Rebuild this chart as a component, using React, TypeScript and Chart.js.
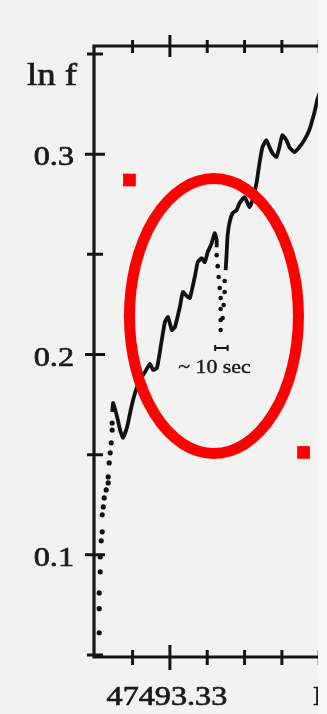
import React, { useEffect, useRef } from "react";
import { Chart, registerables } from "chart.js";

Chart.register(...registerables);

// x: seconds relative to the tick labelled MJD 47493.33 ; y: ln f
const riseDotsX = [-56.8, -56.8, -56.8, -56.0, -56.0, -55.2, -54.4, -54.4, -53.6, -52.8, -51.2, -49.6, -49.6, -48.8, -48.0, -47.2, -46.4, -46.4];
const riseDotsY = [0.0611, 0.0731, 0.081, 0.0915, 0.099, 0.107, 0.1115, 0.12, 0.1239, 0.1284, 0.1324, 0.1359, 0.1389, 0.1459, 0.1509, 0.1559, 0.1623, 0.1658];

const traceAX = [-46.4, -45.6, -42.4, -40.0, -37.6, -34.4, -32.0, -29.6, -26.4, -24.0, -20.0, -16.0, -13.6, -10.4, -7.2, -4.0, -1.6, 1.6, 4.0, 8.0, 10.4, 13.6, 16.0, 20.0, 22.4, 25.6, 28.0, 30.4, 33.6, 36.0, 37.6, 37.6];
const traceAY = [0.1713, 0.1758, 0.1688, 0.1623, 0.1584, 0.1638, 0.1708, 0.1773, 0.1838, 0.1873, 0.1913, 0.1953, 0.1923, 0.1933, 0.2047, 0.2162, 0.2187, 0.2122, 0.2137, 0.2237, 0.2312, 0.2292, 0.2282, 0.2387, 0.2461, 0.2481, 0.2461, 0.2511, 0.2556, 0.2606, 0.2571, 0.2536];

const dipDotsX = [37.6, 38.4, 39.2, 40.0, 40.8, 40.8, 40.8, 40.8, 42.4, 43.2, 44.0, 44.0];
const dipDotsY = [0.2496, 0.2441, 0.2387, 0.2332, 0.2282, 0.2227, 0.2172, 0.2122, 0.2182, 0.2247, 0.2312, 0.2367];

const traceBX = [44.8, 45.6, 46.4, 48.0, 50.4, 53.6, 56.0, 60.0, 64.0, 66.4, 69.6, 72.0, 74.4, 77.6, 80.0, 82.4, 85.6, 88.0, 90.4, 93.6, 96.0, 100.0, 104.0, 108.0, 112.0, 116.0, 118.4, 121.6];
const traceBY = [0.2421, 0.2506, 0.2596, 0.2661, 0.2706, 0.2721, 0.2756, 0.2786, 0.2736, 0.2771, 0.2855, 0.2955, 0.3035, 0.307, 0.3035, 0.3005, 0.2985, 0.3035, 0.3095, 0.307, 0.3035, 0.301, 0.3035, 0.307, 0.312, 0.3204, 0.3269, 0.3329];

const xTickValues = [-30, 0, 30, 60, 90, 120, 150, 180];
const xMajorTickValues = [0, 150];
const xLabelValues = [0];
const xLabels = ["47493.33"];
const cutLabel = "N";
const cutLabelX = 115;

const yTickValues = [0.05, 0.1, 0.15, 0.2, 0.25, 0.3, 0.35];
const yLabelValues = [0.1, 0.2, 0.3];
const yLabels = ["0.1", "0.2", "0.3"];
const yTitle = "ln f";

// red annotations (data coordinates)
const markerX = [-32.5, 107.4];
const markerY = [0.2871, 0.1511];
const ellipseCX = 35.4;
const ellipseCY = 0.2192;
const ellipseRX = 67.9;
const ellipseRY = 0.0686;

const barCenterX = 41.4;
const barHalfWidth = 5; // 10 sec
const barY = 0.2032;
const barLabel = "~ 10 sec";
const barLabelX = 35.8;
const barLabelY = 0.1907;

const INK = "#151515";
const SERIF = '"Liberation Serif", "DejaVu Serif", serif';

function stretchedText(ctx: CanvasRenderingContext2D, text: string, x: number, y: number, size: number, align: CanvasTextAlign) {
  ctx.save();
  ctx.font = `${size}px ${SERIF}`;
  ctx.fillStyle = "#1a1a1a";
  ctx.strokeStyle = "#1a1a1a";
  ctx.lineWidth = size > 24 ? 0.7 : 0.4;
  ctx.textAlign = align;
  ctx.textBaseline = "alphabetic";
  ctx.translate(x, y);
  ctx.scale(1.15, 1);
  ctx.fillText(text, 0, 0);
  ctx.strokeText(text, 0, 0);
  ctx.restore();
}

const paperPlugin = {
  id: "paper",
  afterDatasetsDraw(chart: any) {
    const { ctx, scales } = chart;
    const xs = scales.x;
    const ys = scales.y;
    // ellipse
    const cx = xs.getPixelForValue(ellipseCX);
    const cy = ys.getPixelForValue(ellipseCY);
    const rx = xs.getPixelForValue(ellipseCX + ellipseRX) - cx;
    const ry = cy - ys.getPixelForValue(ellipseCY + ellipseRY);
    ctx.save();
    ctx.strokeStyle = "#ff0000";
    ctx.lineWidth = 11;
    ctx.beginPath();
    ctx.ellipse(cx, cy, rx, ry, 0, 0, Math.PI * 2);
    ctx.stroke();
    ctx.restore();

    // 10 sec bar
    const bx1 = xs.getPixelForValue(barCenterX - barHalfWidth);
    const bx2 = xs.getPixelForValue(barCenterX + barHalfWidth);
    const by = ys.getPixelForValue(barY);
    ctx.save();
    ctx.strokeStyle = INK;
    ctx.lineWidth = 2;
    ctx.beginPath();
    ctx.moveTo(bx1, by);
    ctx.lineTo(bx2, by);
    ctx.moveTo(bx1, by - 3);
    ctx.lineTo(bx1, by + 3);
    ctx.moveTo(bx2, by - 3);
    ctx.lineTo(bx2, by + 3);
    ctx.stroke();
    ctx.restore();
    stretchedText(ctx, barLabel, xs.getPixelForValue(barLabelX), ys.getPixelForValue(barLabelY), 19, "center");
  },
  afterDraw(chart: any) {
    const { ctx, chartArea: a, scales } = chart;
    const xs = scales.x;
    const ys = scales.y;
    ctx.save();
    ctx.strokeStyle = INK;
    ctx.lineCap = "butt";
    ctx.lineWidth = 3.2;
    ctx.beginPath();
    ctx.moveTo(a.left, a.top - 1.5);
    ctx.lineTo(a.left, a.bottom + 1.5);
    ctx.moveTo(a.left - 1.5, a.top);
    ctx.lineTo(a.right, a.top);
    ctx.moveTo(a.left - 1.5, a.bottom);
    ctx.lineTo(a.right, a.bottom);
    ctx.stroke();

    ctx.lineWidth = 3;
    ctx.beginPath();
    yTickValues.forEach((v) => {
      const py = ys.getPixelForValue(v);
      const major = yLabelValues.includes(v);
      ctx.moveTo(a.left - (major ? 9 : 7), py);
      ctx.lineTo(a.left + (major ? 11 : 9), py);
    });
    xTickValues.forEach((v) => {
      const px = xs.getPixelForValue(v);
      const major = xMajorTickValues.includes(v);
      ctx.moveTo(px, a.bottom - (major ? 12 : 7));
      ctx.lineTo(px, a.bottom + (major ? 13 : 8));
      ctx.moveTo(px, a.top - (major ? 11 : 6));
      ctx.lineTo(px, a.top + (major ? 11 : 7));
    });
    ctx.stroke();
    ctx.restore();

    yLabelValues.forEach((v, i) => {
      stretchedText(ctx, yLabels[i], a.left - 20, ys.getPixelForValue(v) + 11, 28, "right");
    });
    xLabelValues.forEach((v, i) => {
      stretchedText(ctx, xLabels[i], xs.getPixelForValue(v) - 3, a.bottom + 48, 28, "center");
    });
    stretchedText(ctx, cutLabel, xs.getPixelForValue(cutLabelX), a.bottom + 48, 28, "left");
    stretchedText(ctx, yTitle, a.left - 67, a.top + 39, 32, "left");
  },
};

function pts(xs: number[], ys: number[]) {
  return xs.map((x, i) => ({ x, y: ys[i] }));
}

export default function App() {
  const ref = useRef<HTMLCanvasElement | null>(null);
  useEffect(() => {
    if (!ref.current) return;
    const chart = new Chart(ref.current, {
      type: "scatter",
      data: {
        datasets: [
          {
            data: pts(markerX, markerY),
            pointStyle: "rect",
            pointRadius: 9,
            borderWidth: 0,
            backgroundColor: "#ff0000",
            order: 0,
          } as any,
          {
            data: pts(traceAX, traceAY),
            showLine: true,
            borderColor: "#111111",
            borderWidth: 3.8,
            pointRadius: 0,
            tension: 0.15,
            order: 1,
          },
          {
            data: pts(traceBX, traceBY),
            showLine: true,
            borderColor: "#111111",
            borderWidth: 3.8,
            pointRadius: 0,
            tension: 0.15,
            order: 1,
          },
          {
            data: pts(riseDotsX, riseDotsY),
            pointRadius: 2.6,
            borderWidth: 0,
            backgroundColor: "#111111",
            order: 1,
          },
          {
            data: pts(dipDotsX, dipDotsY),
            pointRadius: 2.3,
            borderWidth: 0,
            backgroundColor: "#111111",
            order: 1,
          },
        ],
      },
      options: {
        responsive: false,
        animation: false,
        events: [],
        layout: { padding: { left: 94, top: 46, right: 20, bottom: 57 } },
        plugins: { legend: { display: false }, tooltip: { enabled: false } },
        scales: {
          x: { type: "linear", min: -61, max: 201, display: false },
          y: { type: "linear", min: 0.049, max: 0.354, display: false },
        },
      },
      plugins: [paperPlugin],
    });
    return () => chart.destroy();
  }, []);

  return (
    <div style={{ position: "fixed", left: 0, top: 0, width: 327, height: 714, background: "#f7f7f7", overflow: "hidden" }}>
      <div style={{ position: "absolute", left: 0, top: 0, width: 318, height: 714, overflow: "hidden", background: "#f2f2f2" }}>
        <canvas ref={ref} width={440} height={714} style={{ display: "block" }} />
      </div>
    </div>
  );
}
